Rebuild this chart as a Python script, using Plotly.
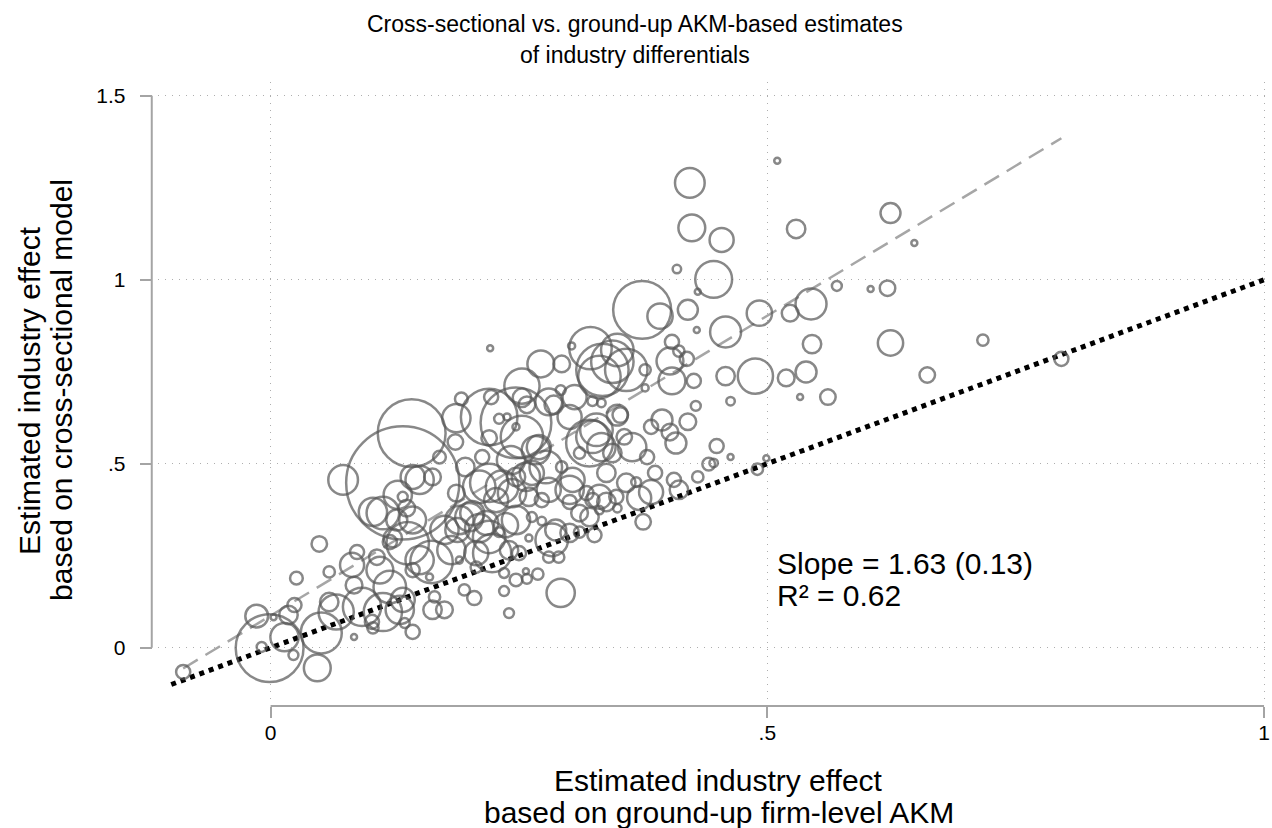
import plotly.graph_objects as go

# Industry-level estimates: ground-up firm-level AKM effect (x),
# cross-sectional model effect (y) and industry employment weight.
akm_effect = [
    -0.088, -0.001, -0.014, 0.003, 0.018, 0.024, 0.014, 0.023, -0.009, 0.047,
    0.026, 0.049, 0.059, 0.051, 0.066, 0.059, 0.084, 0.087, 0.082, 0.084,
    0.092, 0.102, 0.103, 0.113, 0.130, 0.133, 0.110, 0.107, 0.120, 0.120,
    0.103, 0.113, 0.133, 0.073, 0.133, 0.142, 0.128, 0.150, 0.143, 0.163,
    0.170, 0.127, 0.137, 0.143, 0.123, 0.138, 0.162, 0.150, 0.143, 0.160,
    0.182, 0.175, 0.188, 0.190, 0.200, 0.210, 0.220, 0.223, 0.207, 0.190,
    0.207, 0.187, 0.210, 0.220, 0.233, 0.243, 0.227, 0.247, 0.260, 0.273,
    0.247, 0.237, 0.230, 0.263, 0.273, 0.260, 0.240, 0.250, 0.283, 0.280,
    0.290, 0.287, 0.301, 0.311, 0.311, 0.324, 0.331, 0.338, 0.348, 0.301,
    0.301, 0.304, 0.280, 0.326, 0.338, 0.263, 0.292, 0.143, 0.135, 0.163,
    0.175, 0.165, 0.195, 0.205, 0.235, 0.240, 0.247, 0.258, 0.257, 0.269,
    0.235, 0.221, 0.272, 0.293, 0.303, 0.322, 0.334, 0.344, 0.349, 0.358,
    0.331, 0.253, 0.292, 0.306, 0.280, 0.285, 0.324, 0.333, 0.192, 0.187,
    0.220, 0.222, 0.247, 0.230, 0.238, 0.247, 0.253, 0.258, 0.253, 0.267,
    0.220, 0.186, 0.196, 0.213, 0.242, 0.277, 0.293, 0.324, 0.321, 0.311,
    0.344, 0.349, 0.257, 0.328, 0.333, 0.374, 0.392, 0.420, 0.429, 0.458,
    0.492, 0.523, 0.544, 0.545, 0.624, 0.519, 0.539, 0.533, 0.561, 0.488,
    0.458, 0.463, 0.426, 0.428, 0.404, 0.411, 0.419, 0.402, 0.404, 0.377,
    0.377, 0.352, 0.394, 0.383, 0.402, 0.408, 0.420, 0.449, 0.463, 0.441,
    0.446, 0.499, 0.490, 0.430, 0.411, 0.406, 0.387, 0.383, 0.379, 0.364,
    0.356, 0.358, 0.368, 0.375, 0.349, 0.371, 0.331, 0.318, 0.321, 0.270,
    0.301, 0.422, 0.424, 0.454, 0.409, 0.446, 0.430, 0.510, 0.529, 0.624,
    0.648, 0.570, 0.604, 0.621, 0.717, 0.661, 0.796, 0.203, 0.217,
]
cross_effect = [
    -0.066, -0.001, 0.086, 0.083, 0.089, 0.116, 0.029, -0.020, 0.002, -0.055,
    0.189, 0.282, 0.206, 0.040, 0.097, 0.124, 0.029, 0.260, 0.225, 0.170,
    0.111, 0.070, 0.054, 0.097, 0.103, 0.130, 0.211, 0.246, 0.165, 0.287,
    0.369, 0.366, 0.410, 0.456, 0.448, 0.583, 0.415, 0.456, 0.464, 0.464,
    0.518, 0.347, 0.379, 0.347, 0.298, 0.284, 0.233, 0.238, 0.211, 0.192,
    0.265, 0.320, 0.320, 0.347, 0.355, 0.325, 0.301, 0.257, 0.257, 0.238,
    0.219, 0.420, 0.437, 0.448, 0.437, 0.420, 0.401, 0.464, 0.410, 0.401,
    0.347, 0.333, 0.314, 0.355, 0.344, 0.298, 0.265, 0.257, 0.293, 0.246,
    0.246, 0.320, 0.312, 0.314, 0.366, 0.401, 0.374, 0.396, 0.410, 0.396,
    0.429, 0.456, 0.429, 0.306, 0.475, 0.475, 0.149, 0.043, 0.067, 0.103,
    0.103, 0.138, 0.157, 0.135, 0.154, 0.094, 0.184, 0.187, 0.208, 0.200,
    0.203, 0.814, 0.771, 0.771, 0.820, 0.814, 0.755, 0.777, 0.809, 0.755,
    0.736, 0.711, 0.700, 0.681, 0.668, 0.660, 0.670, 0.665, 0.676, 0.624,
    0.627, 0.681, 0.611, 0.622, 0.627, 0.600, 0.679, 0.660, 0.573, 0.537,
    0.570, 0.559, 0.491, 0.518, 0.510, 0.491, 0.491, 0.573, 0.556, 0.529,
    0.529, 0.632, 0.464, 0.592, 0.545, 0.918, 0.901, 0.918, 0.863, 0.858,
    0.909, 0.909, 0.934, 0.825, 0.828, 0.733, 0.749, 0.681, 0.681, 0.738,
    0.738, 0.670, 0.725, 0.657, 0.831, 0.806, 0.785, 0.779, 0.725, 0.706,
    0.755, 0.632, 0.619, 0.600, 0.586, 0.556, 0.614, 0.548, 0.518, 0.499,
    0.502, 0.515, 0.485, 0.464, 0.429, 0.456, 0.475, 0.423, 0.518, 0.545,
    0.573, 0.448, 0.450, 0.342, 0.379, 0.407, 0.410, 0.420, 0.355, 0.545,
    0.627, 1.263, 1.141, 1.108, 1.029, 1.001, 0.967, 1.323, 1.138, 1.181,
    1.100, 0.983, 0.975, 0.977, 0.836, 0.741, 0.785, 0.366, 0.339,
]
emp_weight = [
    10, 230, 26, 1.6, 17, 10, 40, 4.9, 4.9, 36,
    8.1, 12, 6.4, 84, 62, 17, 1.6, 10, 29, 14,
    73, 10, 6.4, 73, 40, 29, 36, 12, 53, 10,
    40, 53, 4.9, 44, 640, 230, 40, 40, 29, 14,
    8.1, 22, 14, 36, 17, 90, 90, 40, 10, 2.5,
    40, 40, 29, 40, 40, 40, 53, 73, 29, 2.5,
    6.4, 14, 53, 73, 53, 40, 29, 17, 17, 10,
    40, 29, 4.9, 4.9, 3.6, 2.5, 17, 10, 53, 6.4,
    6.4, 22, 17, 6.4, 14, 10, 3.6, 17, 10, 10,
    40, 29, 29, 10, 17, 29, 40, 10, 4.9, 17,
    14, 6.4, 6.4, 10, 4.9, 4.9, 8.1, 4.9, 1.6, 6.4,
    4.9, 1.6, 36, 14, 2.5, 90, 137, 90, 53, 90,
    90, 62, 4.9, 29, 36, 17, 4.9, 3.6, 8.1, 40,
    160, 10, 250, 4.9, 2.5, 2.5, 17, 14, 90, 40,
    12, 12, 17, 10, 40, 53, 6.4, 53, 109, 6.4,
    17, 22, 40, 53, 40, 168, 32, 20, 1.6, 48,
    32, 14, 48, 17, 32, 14, 22, 1.6, 12, 62,
    17, 3.6, 10, 4.9, 10, 6.4, 10, 36, 36, 2.5,
    6.4, 12, 22, 10, 14, 22, 14, 10, 1.6, 8.1,
    3.6, 1.6, 6.4, 6.4, 17, 10, 10, 29, 10, 40,
    12, 17, 4.9, 12, 3.6, 29, 29, 10, 17, 29,
    29, 44, 36, 29, 3.6, 68, 1.6, 0.9, 17, 20,
    1.6, 4.9, 1.6, 12, 6.4, 12, 10, 29, 29,
]

# Weighted regression summary shown on the chart
FIT_SLOPE = 1.63
FIT_SE = 0.13
FIT_R2 = 0.62
FIT_INTERCEPT = 0.087

x_ticks = [0, 0.5, 1]
x_tick_text = ["0", ".5", "1"]
y_ticks = [0, 0.5, 1, 1.5]
y_tick_text = ["0", ".5", "1", "1.5"]
diag_span = [-0.1, 1.0]

title_lines = ["Cross-sectional vs. ground-up AKM-based estimates", "of industry differentials"]
xtitle_lines = ["Estimated industry effect", "based on ground-up firm-level AKM"]
ytitle_lines = ["Estimated industry effect", "based on cross-sectional model"]
stat_lines = [f"Slope = {FIT_SLOPE:.2f} ({FIT_SE:.2f})", f"R² = {FIT_R2:.2f}"]

W, H = 1272, 828
FONT = "Liberation Sans, Arial, Helvetica, sans-serif"
AXIS_GREY = "#a4a4a4"
MARK_GREY = "#555555"

fit_x = [min(akm_effect), max(akm_effect)]
fit_y = [FIT_INTERCEPT + FIT_SLOPE * v for v in fit_x]

fig = go.Figure()

# 45-degree reference line
fig.add_trace(go.Scatter(
    x=diag_span, y=diag_span, mode="lines",
    line=dict(color="black", width=5, dash="dot"),
    hoverinfo="skip", showlegend=False,
))

# Weighted fitted line
fig.add_trace(go.Scatter(
    x=fit_x, y=fit_y, mode="lines",
    line=dict(color="#a6a6a6", width=2.5, dash="17px,9px"),
    hoverinfo="skip", showlegend=False,
))

# Industries, marker area proportional to employment weight
fig.add_trace(go.Scatter(
    x=akm_effect, y=cross_effect, mode="markers",
    marker=dict(
        symbol="circle-open", color=MARK_GREY,
        size=emp_weight, sizemode="area", sizeref=0.1, sizemin=3,
        line=dict(width=2.5, color=MARK_GREY),
    ),
    showlegend=False,
))

grid = dict(showgrid=True, gridcolor="#aeaeae", gridwidth=1, griddash="1px,6px",
            zeroline=False, showline=False)

# text lines placed one by one for tight line spacing
annotations = []
for i, t in enumerate(title_lines):
    annotations.append(dict(text=t, xref="paper", yref="paper", x=0.5, y=(H - (24 + 31 * i)) / H,
                            xanchor="center", yanchor="middle", showarrow=False,
                            font=dict(size=23, family=FONT)))
for i, t in enumerate(xtitle_lines):
    annotations.append(dict(text=t, xref="paper", yref="paper", x=720 / W, y=(H - (780 + 32 * i)) / H,
                            xanchor="center", yanchor="middle", showarrow=False,
                            font=dict(size=30, family=FONT)))
for i, t in enumerate(ytitle_lines):
    annotations.append(dict(text=t, xref="paper", yref="paper", x=(29 + 32 * i) / W, y=(H - 390) / H,
                            xanchor="center", yanchor="middle", showarrow=False, textangle=-90,
                            font=dict(size=30, family=FONT)))
for i, t in enumerate(stat_lines):
    annotations.append(dict(text=t, xref="paper", yref="paper", x=776 / W, y=(H - (563 + 32 * i)) / H,
                            xanchor="left", yanchor="middle", align="left", showarrow=False,
                            font=dict(size=30, family=FONT)))

fig.update_layout(
    width=W, height=H,
    margin=dict(l=0, r=0, t=0, b=0),
    paper_bgcolor="white", plot_bgcolor="white",
    font=dict(family=FONT, color="black"),
    xaxis=dict(
        domain=[158 / W, 1270 / W], range=[-0.1136, 1.0040],
        tickvals=x_ticks, ticktext=x_tick_text,
        ticks="outside", ticklen=11, tickwidth=2, tickcolor=AXIS_GREY,
        tickfont=dict(size=21, family=FONT, color="black"),
        anchor="free", position=(H - 706) / H, ticklabelstandoff=-3,
        **grid,
    ),
    yaxis=dict(
        domain=[(H - 700) / H, (H - 82) / H], range=[-0.1421, 1.5372],
        tickvals=y_ticks, ticktext=y_tick_text,
        ticks="outside", ticklen=12, tickwidth=2, tickcolor=AXIS_GREY,
        tickfont=dict(size=21, family=FONT, color="black"),
        anchor="free", position=152 / W, ticklabelstandoff=10,
        **grid,
    ),
    shapes=[
        # axis lines spanning the labelled tick range only
        dict(type="line", xref="paper", yref="y", x0=152 / W, x1=152 / W,
             y0=y_ticks[0], y1=y_ticks[-1], line=dict(color=AXIS_GREY, width=2)),
        dict(type="line", xref="x", yref="paper", x0=x_ticks[0], x1=x_ticks[-1],
             y0=(H - 706) / H, y1=(H - 706) / H, line=dict(color=AXIS_GREY, width=2)),
    ],
    annotations=annotations,
)

fig.write_html("out.html")
